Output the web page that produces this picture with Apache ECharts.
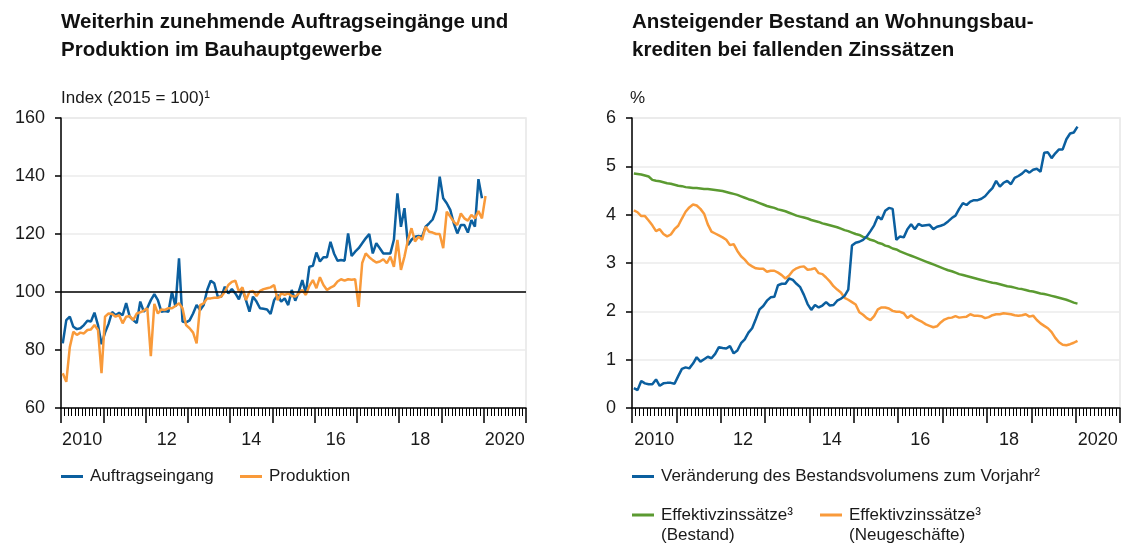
<!DOCTYPE html>
<html>
<head>
<meta charset="utf-8">
<script src="https://cdn.jsdelivr.net/npm/echarts@6/dist/echarts.min.js"></script>
<style>
  html, body { margin: 0; padding: 0; background: #fff; }
  #chart { width: 1128px; height: 545px; }
</style>
</head>
<body>
<div id="chart"></div>
<script>
const startYear = 2010
const yearLabels = ['2010', '', '12', '', '14', '', '16', '', '18', '', '2020']

// Bauhauptgewerbe, Index 2015 = 100, monatlich ab Jan 2010
const auftragseingang = [
  82.3, 90.3, 91.5, 88, 87.2, 87.5, 88.6, 90.1, 89.8, 92.9, 88.6, 82,
  86, 89, 93.1, 92, 92.8, 92, 96.2, 91.5, 90.3, 89.3, 96.7, 93.2,
  94.5, 97.2, 99.3, 97.2, 93.2, 93.4, 93.2, 100.1, 94.9, 111.6, 89.8, 89.5,
  90.2, 92.6, 95.5, 93.8, 95.5, 100.7, 103.9, 103, 98.4, 98.4, 101.8, 99.5,
  101, 99.5, 97.5, 101, 97.2, 93.2, 98.4, 96.7, 94.4, 94.2, 94, 92.4,
  97.2, 99, 96.7, 97.8, 95.5, 100.7, 97, 100.1, 104.1, 99.5, 108.7, 109,
  113.6, 110.5, 112, 112, 117.3, 113.3, 110.8, 111, 110.8, 120.2, 112.4, 113.9,
  115.1, 116.8, 118.5, 120, 113.3, 116.8, 115.1, 113.3, 113.3, 113.3, 118, 134,
  122.5, 128.9, 116.2, 118, 119.1, 119.3, 119.1, 122.5, 123.7, 125, 128.3, 139.8,
  132.3, 130.6, 128.3, 123.7, 120.2, 123.1, 123.1, 120.5, 124.8, 122.5, 138.9, 132.3
]
const produktion = [
  72, 69, 81, 86.3, 85.2, 86, 85.7, 86.9, 87.1, 88.6, 86.9, 72,
  91.5, 92.6, 92.4, 91.5, 92, 89.2, 91.5, 91.7, 90.3, 92.6, 93, 93.6,
  94.4, 77.9, 95.9, 92.6, 94, 93.8, 94.4, 94.4, 95.2, 96.1, 94.4, 88.6,
  87.5, 86, 82.3, 95.5, 96.1, 97.8, 97.8, 98, 98, 98.4, 100.1, 102.4,
  103.5, 103.9, 100.1, 101.6, 97.2, 100.1, 100.4, 98.6, 100.4, 101, 101.3, 101.6,
  102.4, 97.2, 99.5, 99, 99.5, 98.6, 98.4, 99.5, 100.7, 99, 102.1, 104.1,
  101.3, 105.1, 102.4, 100.7, 101.5, 102.1, 103.6, 104.4, 103.9, 104.4, 104.2, 104.4,
  94.9, 110, 113.3, 112, 111, 110.2, 110.5, 111.3, 109.9, 112.2, 108.7, 118,
  107.6, 112.2, 118, 122, 117.4, 119.1, 118, 122.5, 120.8, 120.5, 120, 120,
  115.1, 127.7, 126, 124.2, 123.1, 127.1, 125.4, 124.6, 126.6, 125.4, 127.9, 125.4, 133.1
]

// Wohnungsbaukredite, %, monatlich ab Jan 2010
const bestandsvolumen = [
  0.41, 0.37, 0.56, 0.51, 0.49, 0.49, 0.59, 0.46, 0.51, 0.52, 0.52, 0.5,
  0.66, 0.81, 0.84, 0.82, 0.92, 1.05, 0.96, 1.01, 1.06, 1.03, 1.12, 1.26,
  1.24, 1.23, 1.28, 1.13, 1.19, 1.34, 1.42, 1.56, 1.65, 1.84, 2.04, 2.11,
  2.22, 2.29, 2.3, 2.54, 2.57, 2.57, 2.68, 2.65, 2.57, 2.5, 2.34, 2.15,
  2.03, 2.13, 2.08, 2.12, 2.19, 2.12, 2.13, 2.22, 2.26, 2.32, 2.45, 3.36,
  3.42, 3.44, 3.48, 3.55, 3.66, 3.78, 3.96, 3.9, 4.08, 4.14, 4.12, 3.48,
  3.55, 3.53, 3.7, 3.8, 3.7, 3.81, 3.77, 3.78, 3.79, 3.7, 3.75, 3.77,
  3.8, 3.86, 3.93, 3.98, 4.12, 4.24, 4.2, 4.27, 4.3, 4.3, 4.33, 4.38,
  4.47, 4.55, 4.7, 4.58, 4.66, 4.7, 4.63, 4.76, 4.8, 4.85, 4.92, 4.87,
  4.93, 4.95, 4.89, 5.28, 5.29, 5.17, 5.27, 5.35, 5.35, 5.56, 5.68, 5.7, 5.82
]
const zinsBestand = [
  4.85, 4.84, 4.83, 4.81, 4.79, 4.72, 4.70, 4.69, 4.67, 4.65, 4.64, 4.62,
  4.60, 4.59, 4.57, 4.56, 4.55, 4.55, 4.54, 4.53, 4.53, 4.52, 4.51, 4.50,
  4.49, 4.47, 4.45, 4.43, 4.41, 4.38, 4.35, 4.32, 4.30, 4.27, 4.24, 4.21,
  4.18, 4.16, 4.14, 4.11, 4.09, 4.07, 4.04, 4.01, 3.98, 3.96, 3.94, 3.92,
  3.89, 3.87, 3.85, 3.82, 3.80, 3.78, 3.76, 3.74, 3.71, 3.68, 3.66, 3.63,
  3.60, 3.58, 3.54, 3.52, 3.48, 3.46, 3.42, 3.40, 3.36, 3.34, 3.30, 3.28,
  3.24, 3.21, 3.18, 3.15, 3.12, 3.09, 3.06, 3.03, 3.00, 2.97, 2.94, 2.91,
  2.88, 2.85, 2.83, 2.80, 2.77, 2.75, 2.73, 2.71, 2.69, 2.67, 2.65, 2.63,
  2.61, 2.59, 2.58, 2.56, 2.54, 2.52, 2.51, 2.49, 2.47, 2.46, 2.44, 2.42,
  2.41, 2.39, 2.37, 2.36, 2.34, 2.32, 2.30, 2.28, 2.26, 2.24, 2.21, 2.18, 2.16
]
const zinsNeugeschaeft = [
  4.09, 4.05, 3.97, 3.97, 3.88, 3.78, 3.66, 3.70, 3.60, 3.55, 3.59, 3.70,
  3.77, 3.92, 4.06, 4.15, 4.21, 4.19, 4.12, 4.02, 3.80, 3.65, 3.61, 3.57,
  3.53, 3.48, 3.37, 3.39, 3.25, 3.14, 3.07, 2.98, 2.93, 2.89, 2.88, 2.88,
  2.82, 2.84, 2.84, 2.80, 2.75, 2.68, 2.74, 2.84, 2.89, 2.92, 2.93, 2.86,
  2.87, 2.89, 2.79, 2.77, 2.70, 2.62, 2.52, 2.45, 2.39, 2.28, 2.24, 2.19,
  2.14, 1.98, 1.93, 1.86, 1.82, 1.90, 2.04, 2.08, 2.08, 2.06, 2.01, 1.99,
  1.99, 1.96, 1.86, 1.92, 1.86, 1.82, 1.78, 1.73, 1.70, 1.67, 1.69, 1.77,
  1.83, 1.86, 1.87, 1.90, 1.87, 1.88, 1.89, 1.94, 1.91, 1.91, 1.90, 1.86,
  1.88, 1.92, 1.94, 1.94, 1.96, 1.95, 1.94, 1.92, 1.91, 1.92, 1.94, 1.89,
  1.91, 1.82, 1.75, 1.70, 1.65, 1.57, 1.45, 1.36, 1.31, 1.30, 1.32, 1.35, 1.39
]

const BLUE = '#0b5f9f'
const ORANGE = '#f99a3a'
const GREEN = '#5b9a31'
const font = "'Liberation Sans', Arial, sans-serif"
const TEXT = '#1a1a1a'

// Monatswerte in der Monatsmitte
function monthPoints(values) {
  return values.map((v, i) => [startYear + (i + 0.5) / 12, v])
}

function timeAxes(gridIndex) {
  return [
    {
      type: 'value', gridIndex, min: 2010, max: 2021, interval: 1,
      axisLine: { lineStyle: { color: '#000', width: 1.5 } },
      axisTick: { length: 15, lineStyle: { color: '#000', width: 1.5 } },
      minorTick: { show: true, splitNumber: 12, length: 8, lineStyle: { color: '#000', width: 1 } },
      axisLabel: { show: false },
      splitLine: { show: false },
      minorSplitLine: { show: false }
    },
    {
      type: 'category', gridIndex, position: 'bottom', data: yearLabels, boundaryGap: true,
      axisLine: { show: false }, axisTick: { show: false },
      axisLabel: { interval: 0, margin: 23, fontSize: 18, color: TEXT, fontFamily: font }
    }
  ]
}

function valueAxis(gridIndex, min, max, interval) {
  return {
    type: 'value', gridIndex, min, max, interval,
    axisLine: { show: true, lineStyle: { color: '#000', width: 1.5 } },
    axisTick: { show: true, length: 6, lineStyle: { color: '#000', width: 1.5 } },
    axisLabel: { margin: 16, fontSize: 18, color: TEXT, fontFamily: font },
    splitLine: { lineStyle: { color: '#ebebeb', width: 1.5 } }
  }
}

function line(name, values, color, xIdx, yIdx, extra) {
  return Object.assign({
    name, type: 'line', xAxisIndex: xIdx, yAxisIndex: yIdx,
    data: monthPoints(values), showSymbol: false, symbol: 'none',
    lineStyle: { color, width: 2.5 }, itemStyle: { color }
  }, extra || {})
}

const legendBase = {
  icon: 'rect', itemWidth: 22, itemHeight: 3, selectedMode: false, padding: 0,
  textStyle: { fontSize: 17, color: TEXT, fontFamily: font, padding: [0, 0, 0, 2] }
}
// zweizeilige Legende: Linie auf Höhe der ersten Textzeile
const legendTwoLine = Object.assign({}, legendBase, {
  icon: 'path://M0,0L0.05,0L0.05,0.05Z M0,8.5L22,8.5L22,11.5L0,11.5Z M21.95,39.95L22,39.95L22,40Z',
  itemHeight: 40,
  textStyle: { fontSize: 17, color: TEXT, fontFamily: font, lineHeight: 20, padding: [0, 0, 0, 2] }
})

const titleStyle = { fontSize: 20.5, fontWeight: 'bold', lineHeight: 28, color: '#111', fontFamily: font }
const noteStyle = { fontSize: 17, fontWeight: 'normal', lineHeight: 18, color: TEXT, fontFamily: font }

const chart = echarts.init(document.getElementById('chart'))
chart.setOption({
  animation: false,
  backgroundColor: '#fff',
  title: [
    {
      left: 61, top: 8, padding: 0, textStyle: titleStyle,
      text: 'Weiterhin zunehmende Auftragseingänge und\nProduktion im Bauhauptgewerbe'
    },
    {
      left: 632, top: 8, padding: 0, textStyle: titleStyle,
      text: 'Ansteigender Bestand an Wohnungsbau-\nkrediten bei fallenden Zinssätzen'
    },
    { left: 61, top: 89, padding: 0, text: 'Index (2015 = 100)¹', textStyle: noteStyle },
    { left: 630, top: 89, padding: 0, text: '%', textStyle: noteStyle }
  ],
  grid: [
    { left: 61, top: 118, width: 465, height: 290, show: true, borderColor: '#e6e6e6', borderWidth: 1.5, backgroundColor: 'transparent' },
    { left: 632, top: 118, width: 488, height: 290, show: true, borderColor: '#e6e6e6', borderWidth: 1.5, backgroundColor: 'transparent' }
  ],
  xAxis: [...timeAxes(0), ...timeAxes(1)],
  yAxis: [valueAxis(0, 60, 160, 20), valueAxis(1, 0, 6, 1)],
  legend: [
    Object.assign({}, legendBase, { left: 61, top: 468, data: ['Auftragseingang'] }),
    Object.assign({}, legendBase, { left: 240, top: 468, data: ['Produktion'] }),
    Object.assign({}, legendBase, { left: 632, top: 468, data: ['Veränderung des Bestandsvolumens zum Vorjahr²'] }),
    Object.assign({}, legendTwoLine, { left: 632, top: 505, data: ['Effektivzinssätze³\n(Bestand)'] }),
    Object.assign({}, legendTwoLine, { left: 820, top: 505, data: ['Effektivzinssätze³\n(Neugeschäfte)'] })
  ],
  series: [
    line('Auftragseingang', auftragseingang, BLUE, 0, 0, {
      markLine: {
        silent: true, symbol: 'none', label: { show: false },
        lineStyle: { color: '#000', width: 1.5, type: 'solid' },
        data: [{ yAxis: 100 }]
      }
    }),
    line('Produktion', produktion, ORANGE, 0, 0),
    line('Effektivzinssätze³\n(Bestand)', zinsBestand, GREEN, 2, 1),
    line('Effektivzinssätze³\n(Neugeschäfte)', zinsNeugeschaeft, ORANGE, 2, 1),
    line('Veränderung des Bestandsvolumens zum Vorjahr²', bestandsvolumen, BLUE, 2, 1)
  ]
})
</script>
</body>
</html>
